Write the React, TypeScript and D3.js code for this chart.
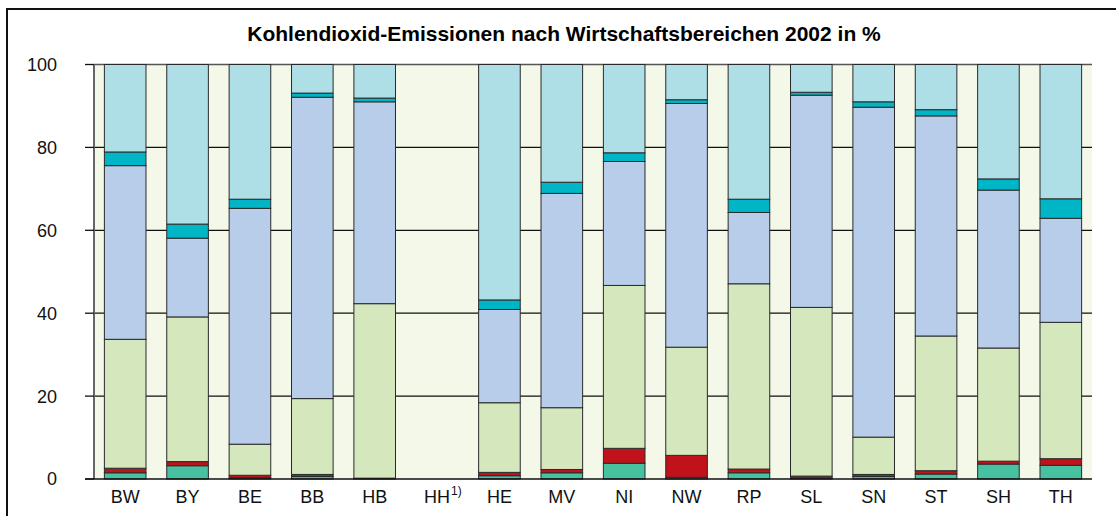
import React from "react";
import * as d3 from "d3";

// Länder (HH ohne Angabe)
const laender = ["BW", "BY", "BE", "BB", "HB", "HH", "HE", "MV", "NI", "NW", "RP", "SL", "SN", "ST", "SH", "TH"];

// Anteile je Bereich in %, von unten nach oben gestapelt
const bereich1 = [1.5, 3.2, 0.3, 0.6, 0.1, 0, 0.8, 1.5, 3.8, 0.4, 1.5, 0.2, 0.6, 1.2, 3.6, 3.3];
const bereich2 = [1.1, 1.0, 0.6, 0.5, 0.1, 0, 0.8, 0.8, 3.6, 5.3, 0.9, 0.5, 0.5, 0.8, 0.7, 1.6];
const bereich3 = [31.1, 34.9, 7.5, 18.3, 42.1, 0, 16.8, 14.9, 39.3, 26.1, 44.7, 40.7, 9.0, 32.5, 27.3, 32.9];
const bereich4 = [41.9, 19.0, 56.9, 72.7, 48.7, 0, 22.5, 51.7, 29.9, 58.8, 17.2, 51.2, 79.6, 53.1, 38.1, 25.1];
const bereich5 = [3.3, 3.4, 2.2, 1.0, 0.9, 0, 2.3, 2.7, 2.1, 0.9, 3.2, 0.7, 1.3, 1.5, 2.7, 4.7];
const bereich6 = [21.1, 38.5, 32.5, 6.9, 8.1, 0, 56.8, 28.4, 21.3, 8.5, 32.5, 6.7, 9.0, 10.9, 27.6, 32.4];

const yTicks = [0, 20, 40, 60, 80, 100];
const title = "Kohlendioxid-Emissionen nach Wirtschaftsbereichen 2002 in %";

const keys = ["b1", "b2", "b3", "b4", "b5", "b6"];
const colors = ["#47c1a0", "#c0121b", "#d4e7bd", "#b8cdea", "#00b6c6", "#aedfe6"];

const W = 1116;
const H = 516;
const plot = { left: 94, right: 1092, top: 64.5, bottom: 479 };
const font = "Arial, 'Liberation Sans', sans-serif";

export default function App() {
  const rows = laender.map((land, i) => ({
    land,
    b1: bereich1[i],
    b2: bereich2[i],
    b3: bereich3[i],
    b4: bereich4[i],
    b5: bereich5[i],
    b6: bereich6[i],
  }));

  const x = d3.scaleBand().domain(laender).range([plot.left, plot.right]).paddingInner(0.333).paddingOuter(0.1665);
  const y = d3.scaleLinear().domain([0, 100]).range([plot.bottom, plot.top]);
  const series = d3.stack<any>().keys(keys)(rows);

  return (
    <div style={{ position: "absolute", left: 0, top: 0 }}>
      <svg width={W} height={H} style={{ display: "block" }}>
        <rect x={7} y={9} width={1300} height={700} fill="none" stroke="#111" strokeWidth={2} />
        <text x={564} y={41} textAnchor="middle" fontFamily={font} fontWeight="bold" fontSize={21}>
          {title}
        </text>

        <rect x={plot.left} y={plot.top} width={plot.right - plot.left} height={plot.bottom - plot.top} fill="#f4f8e9" />
        {yTicks.filter((t) => t > 0 && t < 100).map((t) => (
          <line key={t} x1={plot.left} x2={plot.right} y1={y(t)} y2={y(t)} stroke="#111" strokeWidth={1.3} />
        ))}
        <line x1={plot.left} x2={plot.right} y1={plot.top} y2={plot.top} stroke="#555" strokeWidth={1.3} />

        {series.map((s, si) => (
          <g key={s.key} fill={colors[si]}>
            {s.map((d, i) =>
              d[1] - d[0] > 0 ? (
                <rect
                  key={i}
                  x={x(laender[i])}
                  y={y(d[1])}
                  width={x.bandwidth()}
                  height={y(d[0]) - y(d[1])}
                  stroke="#2a2a2a"
                  strokeWidth={1}
                />
              ) : null
            )}
          </g>
        ))}

        <line x1={plot.left} x2={plot.left} y1={plot.top} y2={plot.bottom} stroke="#666" strokeWidth={2} />
        <line x1={85} x2={plot.right} y1={plot.bottom} y2={plot.bottom} stroke="#111" strokeWidth={1.5} />
        {yTicks.map((t) => (
          <g key={t}>
            <line x1={85} x2={plot.left} y1={y(t)} y2={y(t)} stroke="#111" strokeWidth={1.3} />
            <text x={57} y={y(t)} dy="0.36em" textAnchor="end" fontFamily={font} fontSize={18} fill="#111">
              {t}
            </text>
          </g>
        ))}

        {laender.map((l) => {
          const cx = (x(l) as number) + x.bandwidth() / 2;
          return l === "HH" ? (
            <g key={l}>
              <text x={cx} y={503} textAnchor="middle" fontFamily={font} fontSize={18} fill="#111">
                {l}
              </text>
              <text x={cx + 14} y={495} fontFamily={font} fontSize={12} fill="#111">
                1)
              </text>
            </g>
          ) : (
            <text key={l} x={cx} y={503} textAnchor="middle" fontFamily={font} fontSize={18} fill="#111">
              {l}
            </text>
          );
        })}
      </svg>
    </div>
  );
}
